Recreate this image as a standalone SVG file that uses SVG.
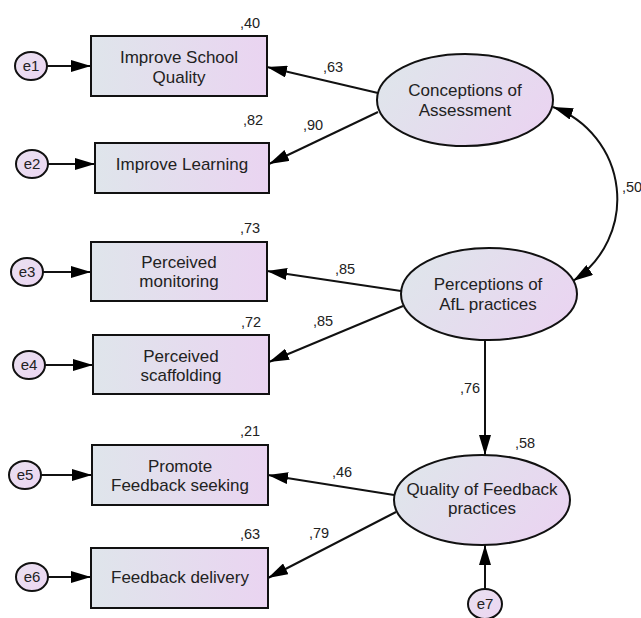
<svg xmlns="http://www.w3.org/2000/svg" width="641" height="618" viewBox="0 0 641 618">
<defs>
<linearGradient id="gr" x1="0" y1="0" x2="1" y2="0">
<stop offset="0" stop-color="#dfe5eb"/>
<stop offset="1" stop-color="#ead4f1"/>
</linearGradient>
<linearGradient id="ge" x1="0" y1="0.3" x2="1" y2="0.7">
<stop offset="0" stop-color="#dfe5eb"/>
<stop offset="1" stop-color="#ead4f1"/>
</linearGradient>
<linearGradient id="gc" x1="0" y1="0" x2="1" y2="1">
<stop offset="0" stop-color="#e9e0f0"/>
<stop offset="1" stop-color="#ecd6f2"/>
</linearGradient>
<marker id="ah" markerUnits="userSpaceOnUse" markerWidth="21" markerHeight="12" refX="20" refY="6" orient="auto-start-reverse" viewBox="0 0 21 12">
<path d="M0,0 L20,6 L0,12 z" fill="#000"/>
</marker>
</defs>
<style>
.obs{fill:url(#gr);stroke:#111;stroke-width:2}
.lat{fill:url(#ge);stroke:#111;stroke-width:2}
.err{fill:url(#gc);stroke:#111;stroke-width:2}
.ln{fill:none;stroke:#111;stroke-width:2;marker-end:url(#ah)}
.dbl{fill:none;stroke:#111;stroke-width:2;marker-start:url(#ah);marker-end:url(#ah)}
text{font-family:"Liberation Sans",Arial,sans-serif;fill:#222}
.t{font-size:17px;text-anchor:middle}
.et{font-size:15px;text-anchor:middle}
.lb{font-size:14.5px}
</style>

<g id="connectors">
<line class="ln" x1="47" y1="66" x2="91" y2="66"/>
<line class="ln" x1="48" y1="164" x2="95" y2="164"/>
<line class="ln" x1="43" y1="272" x2="91" y2="272"/>
<line class="ln" x1="45" y1="365" x2="93" y2="365"/>
<line class="ln" x1="41" y1="475" x2="92" y2="475"/>
<line class="ln" x1="48" y1="577" x2="91" y2="577"/>
<line class="ln" x1="378" y1="93" x2="267" y2="67"/>
<line class="ln" x1="378" y1="112" x2="269" y2="164"/>
<line class="ln" x1="401" y1="291" x2="267" y2="271"/>
<line class="ln" x1="403" y1="306" x2="269" y2="362"/>
<line class="ln" x1="394" y1="495" x2="268" y2="475"/>
<line class="ln" x1="396" y1="512" x2="268" y2="578"/>
<line class="ln" x1="485" y1="340" x2="485" y2="455"/>
<line class="ln" x1="485" y1="589" x2="485" y2="545"/>
<path class="dbl" d="M553,107 A98,98 0 0 1 573,281"/>
<text class="lb" x="323" y="72">,63</text>
<text class="lb" x="303" y="130">,90</text>
<text class="lb" x="335" y="274">,85</text>
<text class="lb" x="313" y="326">,85</text>
<text class="lb" x="332" y="477">,46</text>
<text class="lb" x="309" y="538">,79</text>
<text class="lb" x="622" y="192">,50</text>
<text class="lb" x="460" y="393">,76</text>
</g>

<g id="e1"><ellipse class="err" cx="31" cy="66" rx="16" ry="14"/><text class="et" x="31" y="71">e1</text></g>
<g id="e2"><ellipse class="err" cx="32" cy="164" rx="16" ry="14"/><text class="et" x="32" y="169">e2</text></g>
<g id="e3"><ellipse class="err" cx="27" cy="272" rx="16" ry="14"/><text class="et" x="27" y="277">e3</text></g>
<g id="e4"><ellipse class="err" cx="29" cy="365" rx="16" ry="14"/><text class="et" x="29" y="370">e4</text></g>
<g id="e5"><ellipse class="err" cx="25" cy="475" rx="16" ry="14"/><text class="et" x="25" y="480">e5</text></g>
<g id="e6"><ellipse class="err" cx="32" cy="577" rx="16" ry="14"/><text class="et" x="32" y="582">e6</text></g>
<g id="e7"><ellipse class="err" cx="485" cy="604" rx="17" ry="15"/><text class="et" x="485" y="609">e7</text></g>

<g id="improve-school-quality"><rect class="obs" x="91" y="36" width="176" height="60"/><text class="t" x="179" y="63">Improve School</text><text class="t" x="179" y="83">Quality</text><text class="lb" x="240" y="28">,40</text></g>
<g id="improve-learning"><rect class="obs" x="95" y="143" width="174" height="50"/><text class="t" x="182" y="170">Improve Learning</text><text class="lb" x="243" y="125">,82</text></g>
<g id="perceived-monitoring"><rect class="obs" x="91" y="242" width="176" height="59"/><text class="t" x="179" y="268">Perceived</text><text class="t" x="179" y="287">monitoring</text><text class="lb" x="240" y="233">,73</text></g>
<g id="perceived-scaffolding"><rect class="obs" x="93" y="335" width="176" height="59"/><text class="t" x="181" y="362">Perceived</text><text class="t" x="181" y="381">scaffolding</text><text class="lb" x="241" y="327">,72</text></g>
<g id="promote-feedback-seeking"><rect class="obs" x="92" y="445" width="176" height="60"/><text class="t" x="180" y="472">Promote</text><text class="t" x="180" y="491">Feedback seeking</text><text class="lb" x="240" y="436">,21</text></g>
<g id="feedback-delivery"><rect class="obs" x="91" y="548" width="177" height="60"/><text class="t" x="180" y="583">Feedback delivery</text><text class="lb" x="240" y="539">,63</text></g>

<g id="conceptions"><ellipse class="lat" cx="465" cy="100" rx="88" ry="46"/><text class="t" x="465" y="96">Conceptions of</text><text class="t" x="465" y="116">Assessment</text></g>
<g id="perceptions"><ellipse class="lat" cx="489" cy="294" rx="88" ry="46"/><text class="t" x="488" y="290">Perceptions of</text><text class="t" x="488" y="310">AfL practices</text></g>
<g id="quality"><ellipse class="lat" cx="482" cy="500" rx="88" ry="45"/><text class="t" x="482" y="495">Quality of Feedback</text><text class="t" x="482" y="514">practices</text><text class="lb" x="515" y="448">,58</text></g>
</svg>
